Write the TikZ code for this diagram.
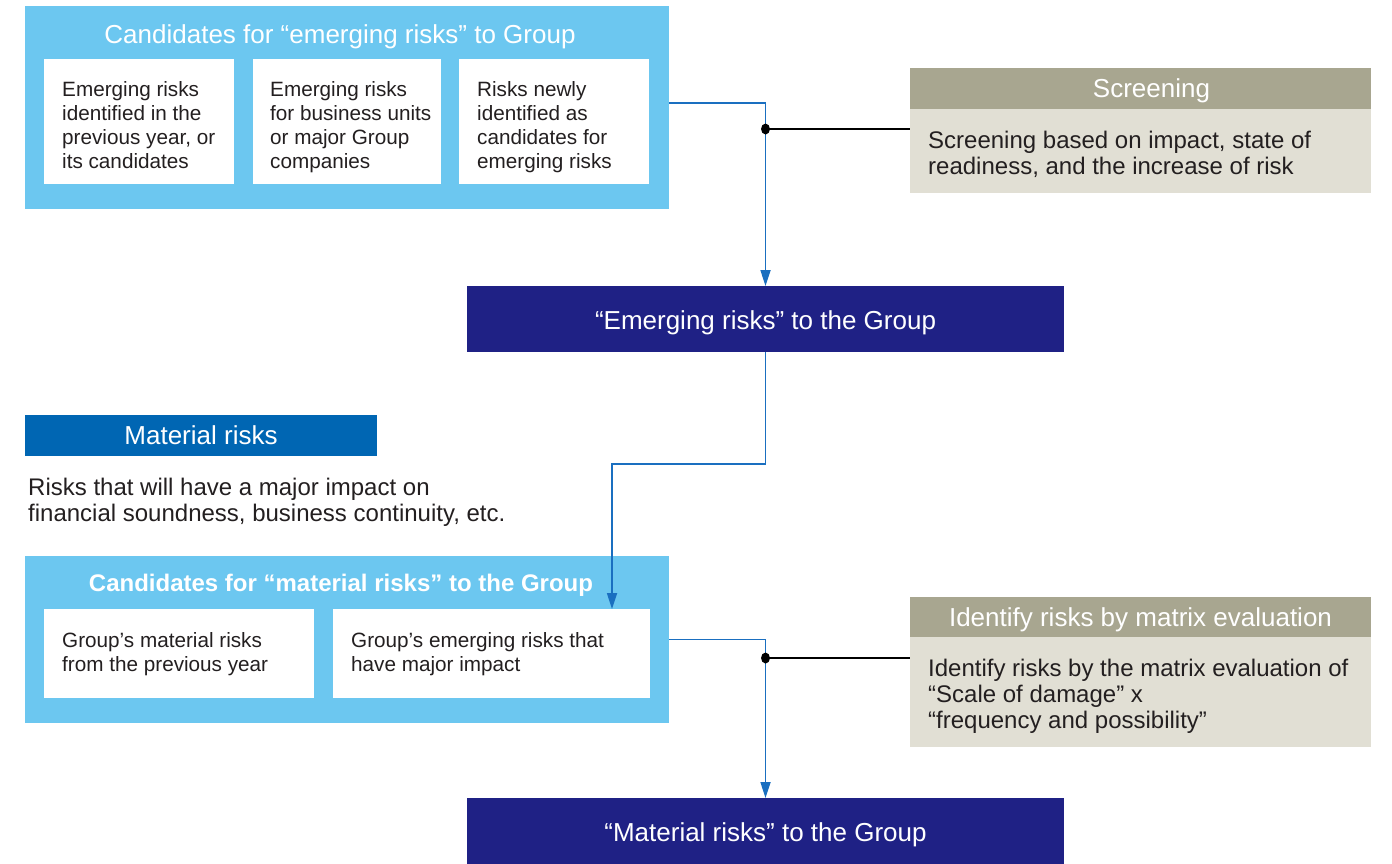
\documentclass[tikz,border=0pt]{standalone}
\usepackage{fontspec}
\setmainfont{Liberation Sans}
\usetikzlibrary{arrows.meta}

\definecolor{skyband}{HTML}{6CC7F0}
\definecolor{navyband}{HTML}{1F2185}
\definecolor{matblue}{HTML}{0066B3}
\definecolor{olivehead}{HTML}{A8A690}
\definecolor{beigebody}{HTML}{E1DFD4}
\definecolor{flowblue}{HTML}{1A6FC0}
\definecolor{inktext}{HTML}{231F20}

\begin{document}
\begin{tikzpicture}[x=1pt,y=-1pt,
  panel/.style={anchor=north west, inner sep=0pt, outer sep=0pt},
  headtext/.style={text=white, font=\fontsize{26}{28}\selectfont, text height=18.6pt, text depth=0pt},
  boxtext/.style={anchor=north west, inner sep=0pt, align=left, text=inktext, font=\fontsize{20.7}{24}\selectfont},
  sidetext/.style={anchor=north west, inner sep=0pt, align=left, text=inktext, font=\fontsize{24}{26}\selectfont},
  flow/.style={draw=flowblue, line width=1.7pt, -{Triangle[width=10pt,length=16pt]}},
  tie/.style={draw=black, line width=1.7pt},
]
\useasboundingbox (0,0) rectangle (1392,863);

% ---- candidates for emerging risks ----
\node[panel, fill=skyband, minimum width=644pt, minimum height=203pt] (cand1) at (25,6) {};
\node[headtext] (cand1title) at (340,34) {Candidates for “emerging risks” to Group};
\node[panel, fill=white, minimum width=190pt, minimum height=125pt] (w1) at (44,59) {};
\node[panel, fill=white, minimum width=188pt, minimum height=125pt] (w2) at (253,59) {};
\node[panel, fill=white, minimum width=190pt, minimum height=125pt] (w3) at (459,59) {};
\node[boxtext] (w1t) at (62,81) {Emerging risks\\identified in the\\previous year, or\\its candidates};
\node[boxtext] (w2t) at (270,81) {Emerging risks\\for business units\\or major Group\\companies};
\node[boxtext] (w3t) at (477,81) {Risks newly\\identified as\\candidates for\\emerging risks};

% ---- screening ----
\node[panel, fill=olivehead, minimum width=461pt, minimum height=41pt] (scrhead) at (910,68) {};
\node[headtext] (scrheadt) at ([xshift=11pt]scrhead.center) {Screening};
\node[panel, fill=beigebody, minimum width=461pt, minimum height=84pt] (scrbody) at (910,109) {};
\node[sidetext] (scrbodyt) at (928,131) {Screening based on impact, state of\\readiness, and the increase of risk};

% ---- emerging risks to the group ----
\node[panel, fill=navyband, minimum width=597pt, minimum height=66pt] (ern) at (467,286) {};
\node[headtext] (ernt) at (765.5,320) {“Emerging risks” to the Group};

% ---- material risks definition ----
\node[panel, fill=matblue, minimum width=352pt, minimum height=41pt] (mat) at (25,415) {};
\node[headtext] (matt) at (mat.center) {Material risks};
\node[sidetext] (matdef) at (28,478) {Risks that will have a major impact on\\financial soundness, business continuity, etc.};

% ---- candidates for material risks ----
\node[panel, fill=skyband, minimum width=644pt, minimum height=167pt] (cand2) at (25,556) {};
\node[text=white, font=\bfseries\fontsize{24}{26}\selectfont, text height=17.2pt, text depth=0pt] (cand2title) at (341,583) {Candidates for “material risks” to the Group};
\node[panel, fill=white, minimum width=270pt, minimum height=89pt] (w4) at (44,609) {};
\node[panel, fill=white, minimum width=317pt, minimum height=89pt] (w5) at (333,609) {};
\node[boxtext] (w4t) at (62,632) {Group’s material risks\\from the previous year};
\node[boxtext] (w5t) at (351,632) {Group’s emerging risks that\\have major impact};

% ---- matrix evaluation ----
\node[panel, fill=olivehead, minimum width=461pt, minimum height=40pt] (idhead) at (910,597) {};
\node[headtext] (idheadt) at (idhead.center) {Identify risks by matrix evaluation};
\node[panel, fill=beigebody, minimum width=461pt, minimum height=110pt] (idbody) at (910,637) {};
\node[sidetext] (idbodyt) at (928,659) {Identify risks by the matrix evaluation of\\“Scale of damage” x\\“frequency and possibility”};

% ---- material risks to the group ----
\node[panel, fill=navyband, minimum width=597pt, minimum height=70pt] (mrg) at (467,798) {};
\node[headtext] (mrgt) at (765.5,832) {“Material risks” to the Group};

% ---- connectors ----
\draw[flow] ([yshift=4.5pt]cand1.east) -| (ern.north);
\draw[flow] (ern.south) -- ++(0,112) -| ([xshift=120.5pt]w5.north);
\draw[flow] (cand2.east) -| (mrg.north);

\coordinate (j1) at (765.5,129);
\coordinate (j2) at (765.5,658);
\draw[tie] (j1) -- (j1 -| scrbody.west);
\draw[tie] (j2) -- (j2 -| idbody.west);
\fill (j1) ellipse (4.5pt and 5.5pt);
\fill (j2) ellipse (4.5pt and 5.5pt);
\end{tikzpicture}
\end{document}
